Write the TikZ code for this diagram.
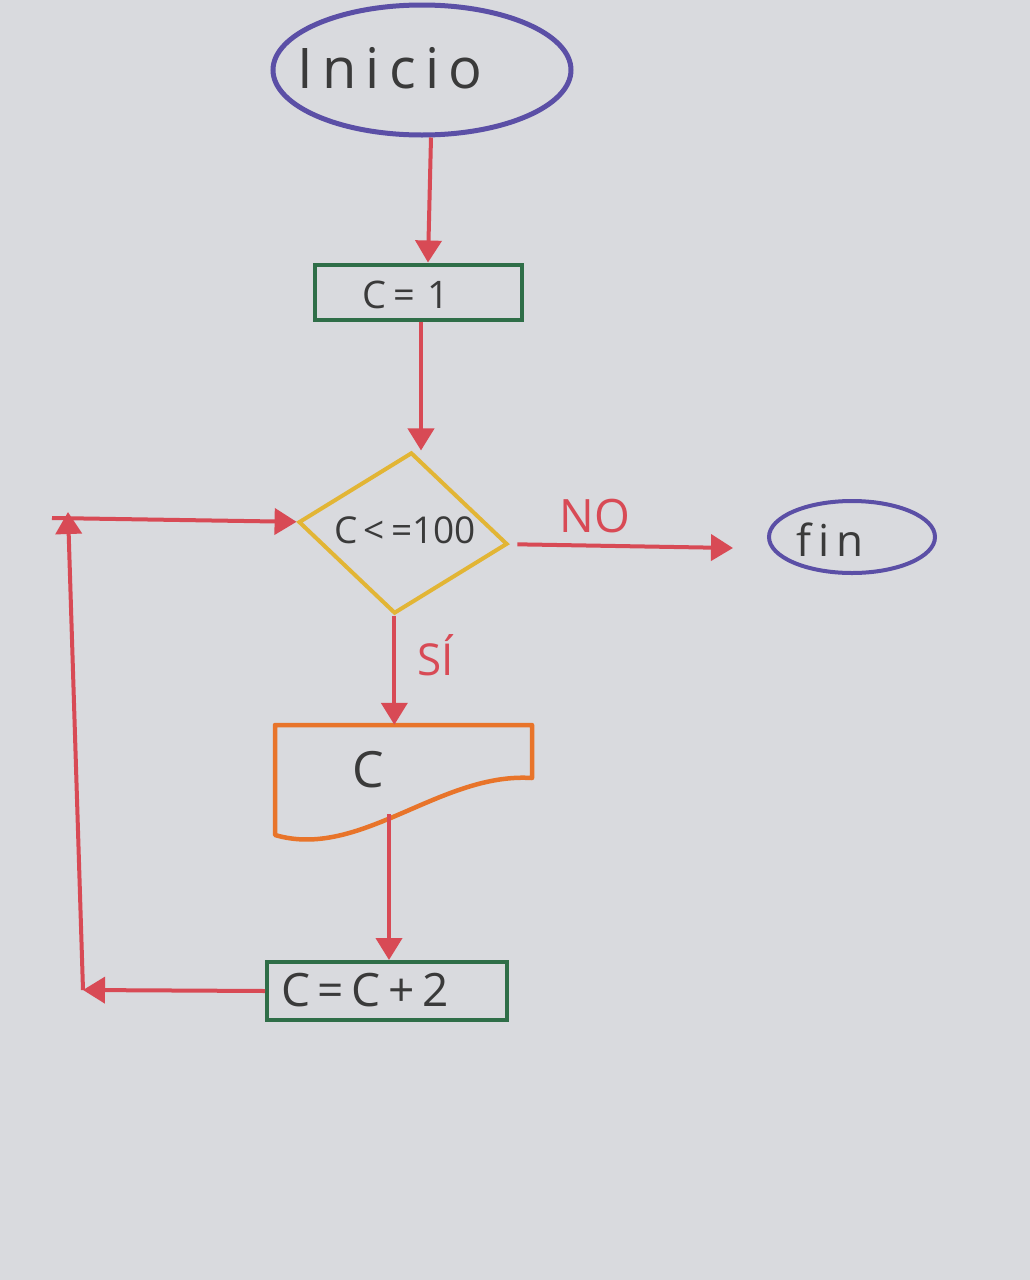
\documentclass[tikz,border=0pt]{standalone}
\usepackage{fontspec}
\setmainfont{Open Sans}
\usetikzlibrary{shapes.geometric,arrows.meta}
\definecolor{paper}{HTML}{D9DADE}
\definecolor{redc}{HTML}{D84A55}
\definecolor{purp}{HTML}{5B4FA6}
\definecolor{greenc}{HTML}{2F6E48}
\definecolor{yell}{HTML}{E2B535}
\definecolor{orng}{HTML}{E8742A}
\definecolor{ink}{HTML}{3A3A3A}
\newcommand{\fs}[1]{\fontsize{#1}{#1}\selectfont}
\begin{document}
\begin{tikzpicture}[x=1pt,y=-1pt,
  flow/.style={draw=redc, line width=4pt, -{Triangle[width=26pt,length=22pt]}},
  term/.style={ellipse, draw=purp, line width=5pt, inner sep=0pt},
  proc/.style={rectangle, draw=greenc, line width=4pt, inner sep=0pt},
  txt/.style={text=ink, inner sep=0pt},
  lbl/.style={text=redc, inner sep=0pt}]
\fill[paper] (0,0) rectangle (1030,1280);
\useasboundingbox (0,0) rectangle (1030,1280);

% nodes
\node[term, minimum width=298pt, minimum height=130pt] (ini) at (422,70) {};
\node[txt, font=\fs{56}] (initxt) at (390,68) {I\,n\,i\,c\,i\,o};
\node[proc, minimum width=207pt, minimum height=55pt] (asg) at (418,292) {};
\node[txt, font=\fs{38}] (asgtxt) at (406,295) {C\,=\,\,1};
\node[diamond, draw=yell, line width=4pt, minimum width=210pt, minimum height=162pt, inner sep=0pt, rotate=-6] (cond) at (403,533) {};
\node[txt, font=\fs{37}] (condtxt) at (405,530) {C\,<\,=100};
\node[term, minimum width=166pt, minimum height=72pt, line width=4pt] (fin) at (852,537) {};
\node[txt, font=\fs{44}] (fintxt) at (830,540) {f\,i\,n};

% document (output) shape
\node[minimum width=257pt, minimum height=110pt, inner sep=0pt] (doc) at (403.5,780) {};
\draw[orng, line width=4.5pt, line join=round]
  (275,835) -- (275,725) -- (532,725) -- (532,778)
  .. controls (440,772) and (360,860) .. (275,835) -- cycle;
\node[txt, font=\fs{50}] (doctxt) at (368,770) {C};
\coordinate (docb) at (389,814);

\node[proc, minimum width=240pt, minimum height=58pt] (inc) at (387,991) {};
\node[txt, font=\fs{46}] (inctxt) at (365,990) {C\,=\,C\,+\,2};

% labels
\node[lbl, font=\fs{46}] (no) at (595,516) {NO};
\node[lbl, font=\fs{44}] (si) at (436,655) {SÍ};

% loop corners
\coordinate (c1) at (83,990);
\coordinate (c2) at (68,512);
\coordinate (c3) at (52,518);

% connectors
\draw[flow] ([xshift=9pt]ini.south) -- ([xshift=10pt]asg.north);
\draw[flow] ([xshift=3pt]asg.south) -- ([xshift=3pt]asg.south |- cond.north);
\draw[flow, shorten <=8pt] (cond.east) -- ([xshift=-34pt,yshift=-11pt]fin.west);
\draw[flow] (cond.south) -- (cond.south |- doc.north);
\draw[flow] (docb) -- (docb |- inc.north);
\draw[flow] (inc.west) -- (c1);
\draw[flow] (c1) -- (c2);
\draw[flow] (c3) -- (cond.west);
\end{tikzpicture}
\end{document}
